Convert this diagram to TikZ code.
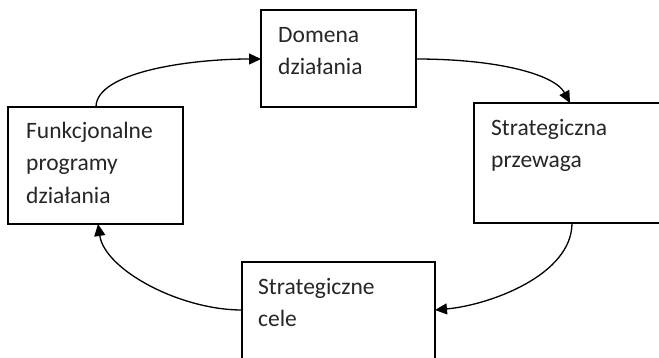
\documentclass[tikz,border=0pt]{standalone}
\usepackage{fontspec}
\setmainfont{Carlito}
\usetikzlibrary{arrows.meta}
\begin{document}
\begin{tikzpicture}[x=1pt,y=-1pt,
  box/.style={draw=black,line width=1.4pt},
  lbl/.style={anchor=base west,inner sep=0pt,align=left,font=\fontsize{23.5}{32.5}\selectfont,text=black!85},
  conn/.style={line width=1.3pt,-{Triangle[length=12pt,width=11pt]}}]
\useasboundingbox (0,0) rectangle (659,357);
\clip (0,0) rectangle (659,357);
\fill[white] (0,0) rectangle (659,357);
% boxes
\draw[box] (261,10) rectangle (416,107);
\draw[box] (474,103) rectangle (690,223);
\draw[box] (8,107) rectangle (183,224);
\draw[box] (242,262) rectangle (435,390);
\coordinate (domL) at (261,59);
\coordinate (domR) at (416,59);
\coordinate (strT) at (570,103);
\coordinate (strB) at (572,223);
\coordinate (funT) at (96,107);
\coordinate (funB) at (98,224);
\coordinate (celL) at (242,310);
\coordinate (celR) at (435,310);
% labels (anchored at the baseline of the last line)
\node[lbl] (dom) at (278,74.5) {Domena\\działania};
\node[lbl] (str) at (491,167.5) {Strategiczna\\przewaga};
\node[lbl] (fun) at (26,203) {Funkcjonalne\\programy\\działania};
\node[lbl] (cel) at (258,326.5) {Strategiczne\\cele};
% connectors
\draw[conn] (funT) .. controls (96,72) and (190,59) .. (domL);
\draw[conn] (domR) .. controls (500,59) and (555,75) .. (strT);
\draw[conn] (strB) .. controls (572,275) and (490,305) .. (celR);
\draw[conn] (celL) .. controls (180,310) and (105,270) .. (funB);
\end{tikzpicture}
\end{document}
